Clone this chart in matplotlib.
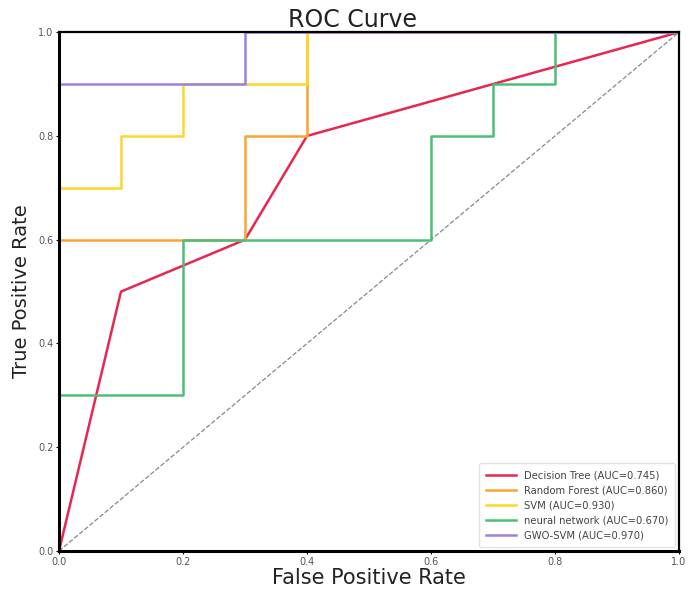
import matplotlib
matplotlib.use("Agg")
import matplotlib.pyplot as plt

plt.rcParams['font.family'] = ['DejaVu Sans']

names = ["Decision Tree", "Random Forest", "SVM", "neural network", "GWO-SVM"]
aucs = [0.745, 0.860, 0.930, 0.670, 0.970]
fpr_dt = [0.0, 0.1, 0.3, 0.4, 1.0]
tpr_dt = [0.0, 0.5, 0.6, 0.8, 1.0]
fpr_rf = [0.0, 0.0, 0.3, 0.3, 0.4, 0.4, 1.0]
tpr_rf = [0.0, 0.6, 0.6, 0.8, 0.8, 1.0, 1.0]
fpr_svm = [0.0, 0.0, 0.1, 0.1, 0.2, 0.2, 0.4, 0.4, 1.0]
tpr_svm = [0.0, 0.7, 0.7, 0.8, 0.8, 0.9, 0.9, 1.0, 1.0]
fpr_nn = [0.0, 0.0, 0.2, 0.2, 0.6, 0.6, 0.7, 0.7, 0.8, 0.8, 1.0]
tpr_nn = [0.0, 0.3, 0.3, 0.6, 0.6, 0.8, 0.8, 0.9, 0.9, 1.0, 1.0]
fpr_gwo = [0.0, 0.0, 0.3, 0.3, 1.0]
tpr_gwo = [0.0, 0.9, 0.9, 1.0, 1.0]
ticks = [0.0, 0.2, 0.4, 0.6, 0.8, 1.0]

colors = ["#e8264f", "#f7a530", "#fdd62a", "#4dbd7a", "#9b82db"]
fprs = [fpr_dt, fpr_rf, fpr_svm, fpr_nn, fpr_gwo]
tprs = [tpr_dt, tpr_rf, tpr_svm, tpr_nn, tpr_gwo]

fig = plt.figure(figsize=(6.9, 5.96), dpi=100)
ax = fig.add_axes([0.0855, 0.0755, 0.8985, 0.8705])

ax.plot([0, 1], [0, 1], linestyle="--", color="#888888", linewidth=0.9)
for n, a, f, t, c in zip(names, aucs, fprs, tprs, colors):
    ax.plot(f, t, color=c, linewidth=1.8, label=f"{n} (AUC={a:.3f})")

ax.set_xlim(0, 1)
ax.set_ylim(0, 1)
ax.set_xticks(ticks)
ax.set_yticks(ticks)
ax.set_xticklabels([f"{v:.1f}" for v in ticks])
ax.set_yticklabels([f"{v:.1f}" for v in ticks])
ax.tick_params(labelsize=7, labelcolor="#555555", length=2, width=0.8, pad=2)
for s in ["left", "bottom"]:
    ax.spines[s].set_linewidth(2.2)
for s in ["top", "right"]:
    ax.spines[s].set_linewidth(1.6)

ax.set_title("ROC Curve", fontsize=17, pad=3, color="#222222", x=0.474)
ax.set_xlabel("False Positive Rate", fontsize=15, labelpad=1, color="#222222")
ax.set_ylabel("True Positive Rate", fontsize=14, labelpad=5, color="#222222")

leg = ax.legend(loc="lower right", fontsize=7.2, handlelength=3.0, frameon=True,
                borderpad=0.7, labelspacing=0.5, handletextpad=0.8,
                borderaxespad=0.4)
leg.get_frame().set_edgecolor("#dddddd")
for txt in leg.get_texts():
    txt.set_color("#444444")

fig.savefig("out.png", dpi=100)
